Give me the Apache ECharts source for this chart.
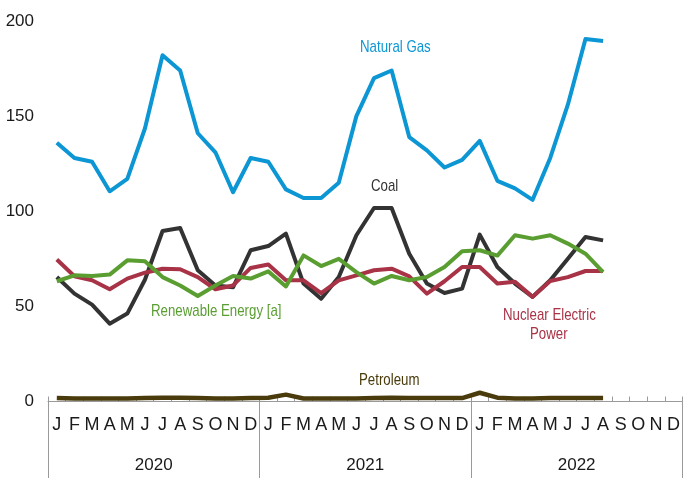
<!DOCTYPE html>
<html><head><meta charset="utf-8">
<script src="https://cdn.jsdelivr.net/npm/echarts@6/dist/echarts.min.js"></script>
<style>html,body{margin:0;padding:0;background:#fff}#c{width:683px;height:478px}</style>
</head><body><div id="c"></div>
<script>
const months = ["J","F","M","A","M","J","J","A","S","O","N","D","J","F","M","A","M","J","J","A","S","O","N","D","J","F","M","A","M","J","J","A","S","O","N","D"];
const years = ["2020","2021","2022"];
const naturalGas = [136,128,126,110.5,117,143.5,182,174,141,131,110,128, 126,111.5,107,107,115,150,170,174,139,132,123,127, 137,116,112,106,128,156,190.5,189.5];
const coal = [65.4,56.7,50.9,40.9,46.2,64,89.6,91.2,69,61,60,79.5, 81.7,88.2,62,54,65.4,87.4,101.7,101.7,77.7,62,57,59.3, 87.7,70.7,62,55,63.7,75,86.5,84.7];
const renewable = [63.2,66.3,66,66.7,74.2,73.7,65.4,61,55.5,61,66,64.6, 68.4,60.5,76.8,71.2,75,68,62,66,63.7,65.4,70.7,79, 79.5,76.7,87.4,85.6,87.4,83,77.7,68];
const nuclear = [74.6,65.8,63.7,59,64.6,67.7,69.8,69.5,65.4,59,61,70.2, 72,63.7,63.7,57,63.7,66.3,69,69.8,65.8,56.7,63.2,70.7, 70.7,62,63,55,63.3,65.4,68.6,68.6];
const petroleum = [1.8,1.6,1.6,1.6,1.6,1.8,2,2,1.8,1.6,1.6,1.8, 2,3.6,1.6,1.6,1.6,1.6,1.8,2,1.8,1.8,1.8,1.8, 4.6,2,1.6,1.6,1.8,1.8,1.8,1.8];
const yTicks = {min:0, max:200, interval:50};

const FONT = "'Liberation Sans Narrow','Arial Narrow','Liberation Sans',sans-serif";
const C = {gas:'#0D96D4', coal:'#333333', ren:'#5A9E32', nuc:'#A83246', pet:'#4A3B0C'};
const chart = echarts.init(document.getElementById('c'), null, {renderer:'canvas'});
function line(name, data, color, z, w){
  return {name, type:'line', data, xAxisIndex:0, yAxisIndex:0, symbol:'none', z,
    lineStyle:{color, width:w||4, join:'round'}, itemStyle:{color}, animation:false};
}
function label(text, x, y, color, align){
  return {type:'text', x, y, scaleX:0.78, scaleY:1,
    style:{text, fill:color, font:"17px "+FONT, align:align||'left', verticalAlign:'top'}};
}
chart.setOption({
  animation:false,
  grid:{left:48, top:21, width:640, bottom:76.5, containLabel:false},
  xAxis:[{
    type:'category', data:months, position:'bottom', boundaryGap:true,
    axisLine:{show:true, lineStyle:{color:'#9a9a9a', width:1}},
    axisTick:{show:true, inside:true, length:5, interval:0, lineStyle:{color:'#9a9a9a'}},
    axisLabel:{interval:0, margin:15, fontSize:18, color:'#1a1a1a', fontFamily:FONT},
    splitLine:{show:false}
  },{
    type:'category', data:years, position:'bottom', boundaryGap:true,
    axisLine:{show:false},
    axisTick:{show:true, length:77, interval:0, lineStyle:{color:'#9a9a9a'}},
    axisLabel:{interval:0, margin:55, fontSize:17, color:'#1a1a1a', fontFamily:FONT},
    splitLine:{show:false}
  }],
  yAxis:{type:'value', min:yTicks.min, max:yTicks.max, interval:yTicks.interval,
    axisLine:{show:false}, axisTick:{show:false}, splitLine:{show:false},
    axisLabel:{margin:14, fontSize:17, color:'#1a1a1a', fontFamily:FONT}},
  series:[
    line('Coal', coal, C.coal, 2),
    line('Nuclear Electric Power', nuclear, C.nuc, 3),
    line('Renewable Energy [a]', renewable, C.ren, 4),
    line('Natural Gas', naturalGas, C.gas, 5),
    line('Petroleum', petroleum, C.pet, 6, 4.5)
  ],
  graphic:[
    label('Natural Gas', 360, 39, C.gas),
    label('Coal', 371, 178, '#333'),
    label('Renewable Energy [a]', 151, 303, C.ren),
    label('Nuclear Electric', 503, 307, C.nuc),
    label('Power', 530, 326, C.nuc),
    label('Petroleum', 359, 372, C.pet)
  ]
});
</script></body></html>
